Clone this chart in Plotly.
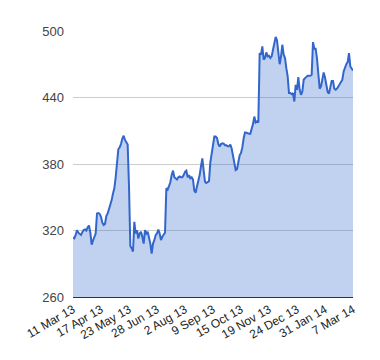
import plotly.graph_objects as go

tick_labels = ["11 Mar 13", "17 Apr 13", "23 May 13", "28 Jun 13", "2 Aug 13",
               "9 Sep 13", "15 Oct 13", "19 Nov 13", "24 Dec 13", "31 Jan 14", "7 Mar 14"]

prices = [
    313.7, 313, 316, 320.3, 318, 317, 316, 318.5, 320.5, 321, 320, 323, 324.5, 318, 307.3,
    311, 314, 317.3, 335.4, 335.8, 335, 332.4, 327, 325, 326, 333, 335.4, 339, 343, 347.4,
    353.5, 358, 368, 385, 393.3, 395, 398, 403, 405.5, 401.7, 399.5, 397.5, 360, 306, 304,
    301, 327.8, 317.3, 320.3, 312.8, 317.3, 318.8, 314.3, 308.2, 320.3, 317.3, 318.8, 314.3,
    308.2, 299.2, 308.2, 311.3, 315.8, 317.3, 320.9, 317.3, 311.3, 314.3, 316, 318, 358,
    357, 360, 363.5, 370, 374, 368, 367, 366, 368, 368.7, 368, 368, 370, 373, 374, 368,
    370, 367, 368, 366, 356, 354, 360, 364, 370, 378, 385, 374, 364, 362.8, 363.5, 364.5,
    381.4, 389, 400.5, 404.7, 404.7, 403.5, 398, 395.7, 398, 398.7, 398.4, 397, 397, 396,
    396, 397.6, 394, 387.4, 380.6, 374.5, 375.3, 382.8, 387.8, 390, 395, 403.2, 408.5,
    408.2, 407.4, 407.4, 407.4, 410.8, 416, 422.8, 417.4, 418.3, 417.4, 480.1, 478.6,
    486.1, 474.1, 475.6, 480.7, 477.1, 477.7, 475.6, 477.1, 483.1, 489.1, 494.6, 491.6,
    483.1, 470, 477, 487.6, 478.6, 475.6, 466.5, 459, 444, 444, 443, 444, 436.4, 451.5,
    446.9, 458.4, 446.9, 442.4, 445.4, 456, 457.5, 458.4, 459.6, 459.6, 459.6, 460.5, 490,
    484, 484, 475, 458, 448, 450, 455, 462.5, 458, 450, 445, 443.5, 448, 455, 455, 448,
    447, 448, 450, 452, 452.7, 456, 463.5, 468, 470, 472, 480.1, 468, 465.6, 464.4,
]

y_ticks = [260, 320, 380, 440, 500]

n = len(prices)
x = list(range(n))
tick_pos = [i * (n - 1) / (len(tick_labels) - 1) for i in range(len(tick_labels))]

fig = go.Figure()
fig.add_trace(go.Scatter(
    x=x, y=prices, mode="lines", fill="tozeroy",
    line=dict(color="#3366CC", width=2),
    fillcolor="rgba(51,102,204,0.3)",
    hoverinfo="skip", showlegend=False,
))

fig.update_layout(
    width=372, height=352,
    margin=dict(l=65, r=27, t=23, b=63),
    paper_bgcolor="white", plot_bgcolor="white",
    font=dict(family="Arial, Liberation Sans, sans-serif", size=13, color="#444444"),
    xaxis=dict(
        range=[0, n - 1], tickmode="array", tickvals=tick_pos, ticktext=tick_labels,
        tickangle=-30, showgrid=False, zeroline=False, showline=True,
        linecolor="#333333", linewidth=1, ticks="", automargin=False,
        tickfont=dict(size=12, color="#222222"),
    ),
    yaxis=dict(
        range=[260, 500], tickmode="array", tickvals=y_ticks,
        showgrid=True, gridcolor="#CCCCCC", gridwidth=1, zeroline=False,
        showline=False, ticks="", ticklabelstandoff=8, automargin=False,
        tickfont=dict(size=13, color="#444444"),
    ),
)

fig.write_html("out.html")
